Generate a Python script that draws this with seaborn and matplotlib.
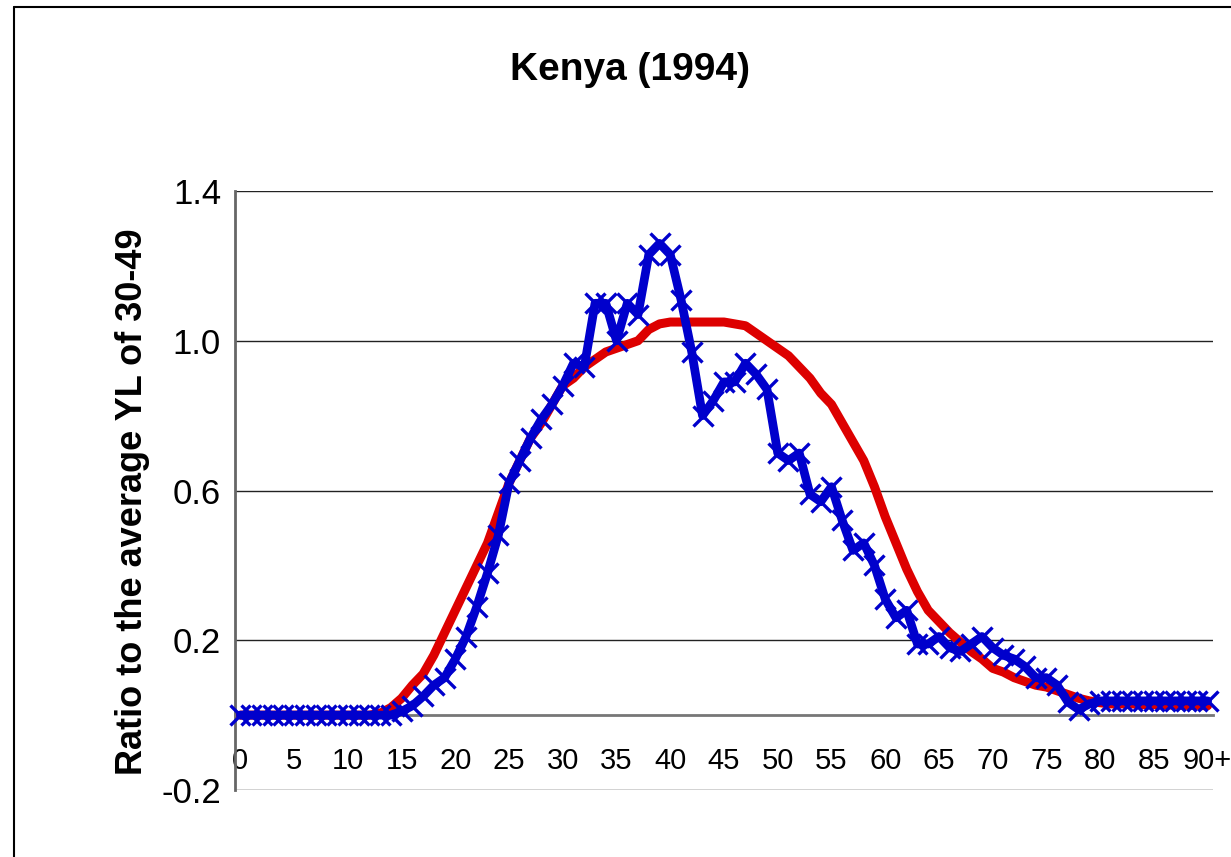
import numpy as np
import pandas as pd
import matplotlib.pyplot as plt
from matplotlib import font_manager
import seaborn as sns

# Ages 0..90 (last one is 90+)
ages = list(range(91))
age_labels = [str(a) for a in range(0, 90, 5)] + ["90+"]

# Blue series (with x markers)
yl_observed = [
    0.0, 0.0, 0.0, 0.0, 0.0, 0.0, 0.0, 0.0, 0.0, 0.0,
    0.0, 0.0, 0.0, 0.0, 0.0, 0.01, 0.025, 0.05, 0.08, 0.10,
    0.15, 0.21, 0.29, 0.38, 0.48, 0.62, 0.68, 0.74, 0.79, 0.83,
    0.88, 0.94, 0.93, 1.10, 1.10, 1.00, 1.10, 1.07, 1.23, 1.26,
    1.23, 1.11, 0.97, 0.80, 0.84, 0.89, 0.89, 0.94, 0.91, 0.87,
    0.70, 0.68, 0.70, 0.59, 0.57, 0.61, 0.52, 0.44, 0.46, 0.40,
    0.31, 0.26, 0.28, 0.19, 0.19, 0.21, 0.18, 0.17, 0.19, 0.21,
    0.18, 0.16, 0.15, 0.13, 0.10, 0.10, 0.08, 0.035, 0.015, 0.03,
    0.038, 0.038, 0.038, 0.038, 0.038, 0.038, 0.038, 0.038, 0.038, 0.038,
    0.038,
]

# Red smooth series
yl_smoothed = [
    0.0, 0.0, 0.0, 0.0, 0.0, 0.0, 0.0, 0.0, 0.0, 0.0,
    0.0, 0.0, 0.0, 0.005, 0.02, 0.045, 0.08, 0.11, 0.16, 0.22,
    0.28, 0.34, 0.40, 0.46, 0.54, 0.62, 0.68, 0.74, 0.78, 0.83,
    0.88, 0.90, 0.93, 0.95, 0.97, 0.98, 0.99, 1.00, 1.03, 1.045,
    1.05, 1.05, 1.05, 1.05, 1.05, 1.05, 1.045, 1.04, 1.02, 1.00,
    0.98, 0.96, 0.93, 0.90, 0.86, 0.83, 0.78, 0.73, 0.68, 0.61,
    0.53, 0.46, 0.39, 0.33, 0.28, 0.25, 0.22, 0.195, 0.17, 0.15,
    0.125, 0.115, 0.10, 0.09, 0.08, 0.075, 0.065, 0.055, 0.045, 0.038,
    0.033, 0.03, 0.03, 0.03, 0.028, 0.028, 0.027, 0.027, 0.026, 0.026,
    0.025,
]

y_ticks = [-0.2, 0.2, 0.6, 1.0, 1.4]

df = pd.DataFrame({"age": ages, "observed": yl_observed, "smoothed": yl_smoothed})

sns.set_style("white")
plt.rcParams['font.family'] = ['Liberation Sans', 'DejaVu Sans']
plt.rcParams['text.color'] = 'black'
plt.rcParams['xtick.color'] = 'black'
plt.rcParams['ytick.color'] = 'black'
plt.rcParams['axes.labelcolor'] = 'black'

# condensed face for the category labels if one is around
installed = {f.name for f in font_manager.fontManager.ttflist}
if "Liberation Sans Narrow" in installed:
    narrow = ["Liberation Sans Narrow"]
    xfs = 22
else:
    narrow = ["Liberation Sans"]
    xfs = 21

fig = plt.figure(figsize=(12.31, 8.57), dpi=100)
ax = fig.add_axes([235 / 1231, 1 - 790 / 857, (1213 - 235) / 1231, (790 - 191) / 857])

sns.lineplot(data=df, x="age", y="smoothed", ax=ax, color="#dd0000", lw=6.5,
             clip_on=False, zorder=3)
sns.lineplot(data=df, x="age", y="observed", ax=ax, color="#0000cc", lw=6.3,
             marker="x", markersize=15, mew=2.4, mec="#0000cc", clip_on=False, zorder=4)

ax.set_xlim(-0.5, 90.5)
ax.set_ylim(-0.2, 1.4)

# y axis, Excel-like gridlines
ax.set_yticks(y_ticks)
ax.set_yticklabels([f"{v:.1f}" for v in y_ticks], fontsize=25)
ax.yaxis.grid(True, color="#222222", lw=1.0)
ax.tick_params(axis="y", direction="out", length=8, width=1.5, color="#666666", pad=2)

# category axis sitting on y = 0
ax.spines["bottom"].set_position(("data", 0))
ax.spines["bottom"].set_color("#777777")
ax.spines["bottom"].set_linewidth(2)
ax.spines["left"].set_color("#666666")
ax.spines["left"].set_linewidth(2)
ax.spines["top"].set_visible(False)
ax.spines["right"].set_visible(False)

ax.set_xticks(list(range(0, 91, 5)))
ax.set_xticklabels(age_labels, fontsize=xfs, family=narrow)
ax.set_xticks(np.arange(-0.5, 91, 1), minor=True)
ax.tick_params(axis="x", which="major", length=0, pad=23)
ax.tick_params(axis="x", which="minor", direction="out", length=8, width=1, color="#222222")

ax.set_xlabel("")
ax.set_ylabel("Ratio to the average YL of 30-49", fontsize=26, fontweight="bold")
ax.yaxis.set_label_coords(-0.087, 0.481)
fig.text(630 / 1231, 1 - 70 / 857, "Kenya (1994)", fontsize=28, fontweight="bold",
         ha="center", va="center")

# chart area border (left and top visible)
fig.add_artist(plt.Line2D([14 / 1231, 14 / 1231], [0, 1 - 7 / 857], color="black", lw=1.5))
fig.add_artist(plt.Line2D([14 / 1231, 1], [1 - 7 / 857, 1 - 7 / 857], color="black", lw=1.5))

fig.savefig("out.png", dpi=100)
